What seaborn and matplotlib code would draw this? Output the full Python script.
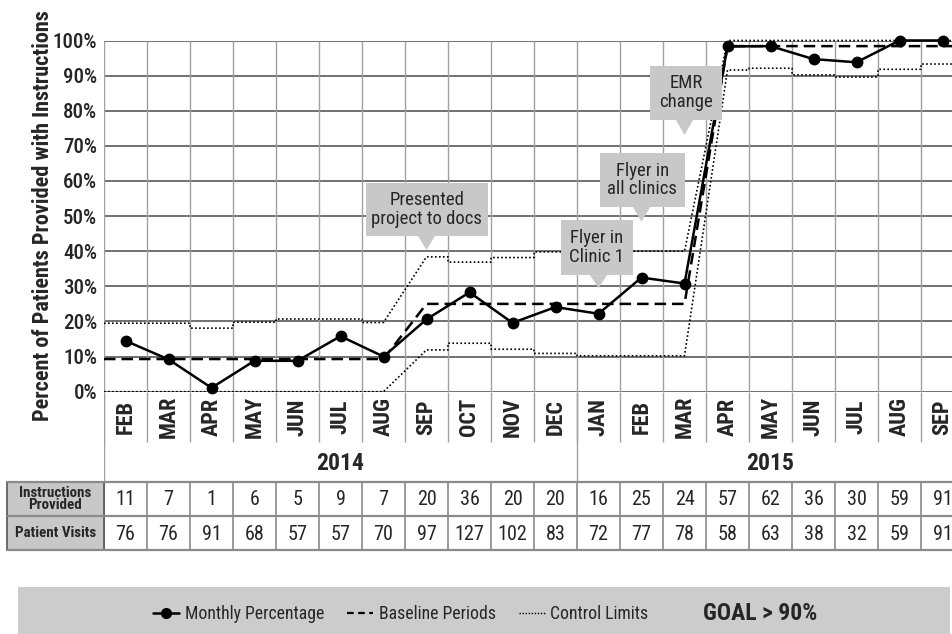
import numpy as np
import seaborn as sns
import matplotlib.pyplot as plt
from matplotlib.patches import Rectangle, Polygon
from matplotlib.lines import Line2D

months = ["FEB", "MAR", "APR", "MAY", "JUN", "JUL", "AUG", "SEP", "OCT", "NOV", "DEC",
          "JAN", "FEB", "MAR", "APR", "MAY", "JUN", "JUL", "AUG", "SEP"]
years = ["2014", "2015"]
year_of_month = [0] * 11 + [1] * 9
instructions = [11, 7, 1, 6, 5, 9, 7, 20, 36, 20, 20, 16, 25, 24, 57, 62, 36, 30, 59, 91]
visits = [76, 76, 91, 68, 57, 57, 70, 97, 127, 102, 83, 72, 77, 78, 58, 63, 38, 32, 59, 91]
monthly_pct = [14.5, 9.2, 1.1, 8.8, 8.8, 15.8, 10.0, 20.6, 28.3, 19.6, 24.1,
               22.2, 32.5, 30.8, 98.3, 98.4, 94.7, 93.8, 100.0, 100.0]
period = [1] * 7 + [2] * 7 + [3] * 6
baseline = [9.3] * 7 + [25.0] * 7 + [98.4] * 6
upper_limit = [19.5, 19.5, 18.1, 19.8, 20.7, 20.7, 19.7, 38.4, 36.9, 38.2, 39.8,
               40.2, 40.0, 40.0, 100, 100, 100, 100, 100, 100]
lower_limit = [0, 0, 0, 0, 0, 0, 0, 11.9, 13.8, 12.1, 10.9, 10.2, 10.2, 10.2,
               91.6, 92.1, 90.2, 89.6, 91.8, 93.3]
callout_text = ["Presented\nproject to docs", "Flyer in\nClinic 1", "Flyer in\nall clinics", "EMR\nchange"]
callout_month = [7, 11, 12, 13]

sns.set_style("white")
plt.rcParams["font.family"] = ["Roboto Condensed", "Liberation Sans", "DejaVu Sans"]

W, H = 953, 634
fig = plt.figure(figsize=(W / 100, H / 100), dpi=100)


def fy(py):
    return 1 - py / H


def period_steps(values):
    # flat segment per month, diagonal joins between periods (center to center)
    xs, ys = [], []
    n = len(values)
    for i, v in enumerate(values):
        first = i > 0 and period[i] != period[i - 1]
        last = i < n - 1 and period[i] != period[i + 1]
        xs += [i if first else i - 0.5, i if last else i + 0.5]
        ys += [v, v]
    return xs, ys


ax = fig.add_axes([104 / W, fy(391.7), 860 / W, 351.2 / H])
ax.set_xlim(-0.5, 19.5)
ax.set_ylim(0, 100)

# grid
ax.hlines(np.arange(0, 101, 10), -0.5, 19.5, color="#666666", lw=1.3, zorder=1)
ax.vlines(np.arange(-0.5, 20, 1), 0, 100, color="#a0a0a0", lw=1.0, zorder=1)

xs, ys = period_steps(upper_limit)
sns.lineplot(x=xs, y=ys, sort=False, estimator=None, color="black", lw=1.2,
             linestyle=(0, (1, 1.4)), ax=ax, zorder=2, clip_on=False)
xs, ys = period_steps(lower_limit)
sns.lineplot(x=xs, y=ys, sort=False, estimator=None, color="black", lw=1.2,
             linestyle=(0, (1, 1.4)), ax=ax, zorder=2)
xs, ys = period_steps(baseline)
sns.lineplot(x=xs, y=ys, sort=False, estimator=None, color="black", lw=1.8,
             linestyle=(0, (4.6, 2.4)), ax=ax, zorder=3)
sns.lineplot(x=np.arange(len(monthly_pct)), y=monthly_pct, sort=False, estimator=None,
             color="black", lw=1.8, marker="o", markersize=8.5, markeredgewidth=0,
             ax=ax, zorder=4, clip_on=False)

ax.set_xticks([])
ax.set_yticks(np.arange(0, 101, 10))
ax.set_yticklabels([f"{v}%" for v in range(0, 101, 10)], fontsize=15, fontweight="medium")
ax.tick_params(axis="y", length=0, pad=5)
for s in ax.spines.values():
    s.set_visible(False)
ax.set_xlabel("")
ax.set_ylabel("")

# callouts: box (x0, x1, y0, y1) and pointer tip
boxes = [(5.59, 8.43, 44.4, 59.5, 40.4), (10.13, 11.80, 33.2, 48.9, 29.5),
         (11.03, 13.0, 52.6, 68.0, 48.4), (12.2, 13.87, 77.4, 92.8, 73.1)]
for txt, m, (x0, x1, y0, y1, tip) in zip(callout_text, callout_month, boxes):
    ax.add_patch(Rectangle((x0, y0), x1 - x0, y1 - y0, fc="#c8c8c8", ec="none", zorder=6))
    ax.add_patch(Polygon([(m - 0.2, y0), (m + 0.2, y0), (m, tip)], closed=True,
                         fc="#c8c8c8", ec="none", zorder=6))
    ax.text((x0 + x1) / 2, (y0 + y1) / 2, txt, ha="center", va="center",
            fontsize=13.5, linespacing=1.05, zorder=7)

fig.text(43 / W, fy(216), "Percent of Patients Provided with Instructions",
         rotation=90, ha="center", va="center", fontsize=16, fontweight="bold")

# month / year / data table under the chart (y in pixel rows)
tax = fig.add_axes([104 / W, fy(551), 860 / W, (551 - 391.7) / H])
tax.set_xlim(-0.5, 19.5)
tax.set_ylim(551, 391.7)
tax.axis("off")
hx = -2.756
bounds = np.arange(-0.5, 20, 1)
tax.vlines(bounds, 391.7, 441.7, color="#a0a0a0", lw=1.0)
tax.vlines([-0.5, 10.5], 391.7, 481.7, color="#a0a0a0", lw=1.0)
tax.vlines(bounds, 481.7, 550, color="#8a8a8a", lw=1.2)
tax.add_patch(Rectangle((hx, 481.7), -0.5 - hx, 68.3, fc="#c8c8c8", ec="#555555",
                        lw=1.2, clip_on=False, zorder=2))
tax.hlines([481.7, 516, 550], hx, 19.5, color="#8a8a8a", lw=1.6, clip_on=False)

for i, m in enumerate(months):
    tax.text(i, 417, m, rotation=90, ha="center", va="center", fontsize=16, fontweight="bold")
    tax.text(i, 499.5, str(instructions[i]), ha="center", va="center", fontsize=14.5)
    tax.text(i, 534, str(visits[i]), ha="center", va="center", fontsize=14.5)
for k, yr in enumerate(years):
    idx = [i for i, y in enumerate(year_of_month) if y == k]
    tax.text(np.mean(idx), 463, yr, ha="center", va="center", fontsize=17, fontweight="bold")
tax.text((hx - 0.5) / 2, 499, "Instructions\nProvided", ha="center", va="center",
         fontsize=10.8, fontweight="bold", linespacing=0.9, zorder=3, clip_on=False)
tax.text((hx - 0.5) / 2, 533, "Patient Visits", ha="center", va="center",
         fontsize=10.8, fontweight="bold", zorder=3, clip_on=False)

# legend band
fig.add_artist(Rectangle((18 / W, 0), (950 - 18) / W, (634 - 587) / H,
                         transform=fig.transFigure, fc="#cccccc", ec="none", zorder=0))
handles = [Line2D([], [], color="black", lw=1.8, marker="o", ms=7),
           Line2D([], [], color="black", lw=1.6, linestyle=(0, (3, 2))),
           Line2D([], [], color="black", lw=1.0, linestyle=(0, (1, 1.2)))]
fig.legend(handles, ["Monthly Percentage", "Baseline Periods", "Control Limits"],
           loc="center left", bbox_to_anchor=(137 / W, fy(614)), ncol=3, frameon=False,
           fontsize=12.7, handlelength=1.5, handletextpad=0.3, columnspacing=1.3)
fig.text(703 / W, fy(614), "GOAL > 90%", ha="left", va="center", fontsize=17, fontweight="bold")

fig.savefig("out.png", dpi=100)
